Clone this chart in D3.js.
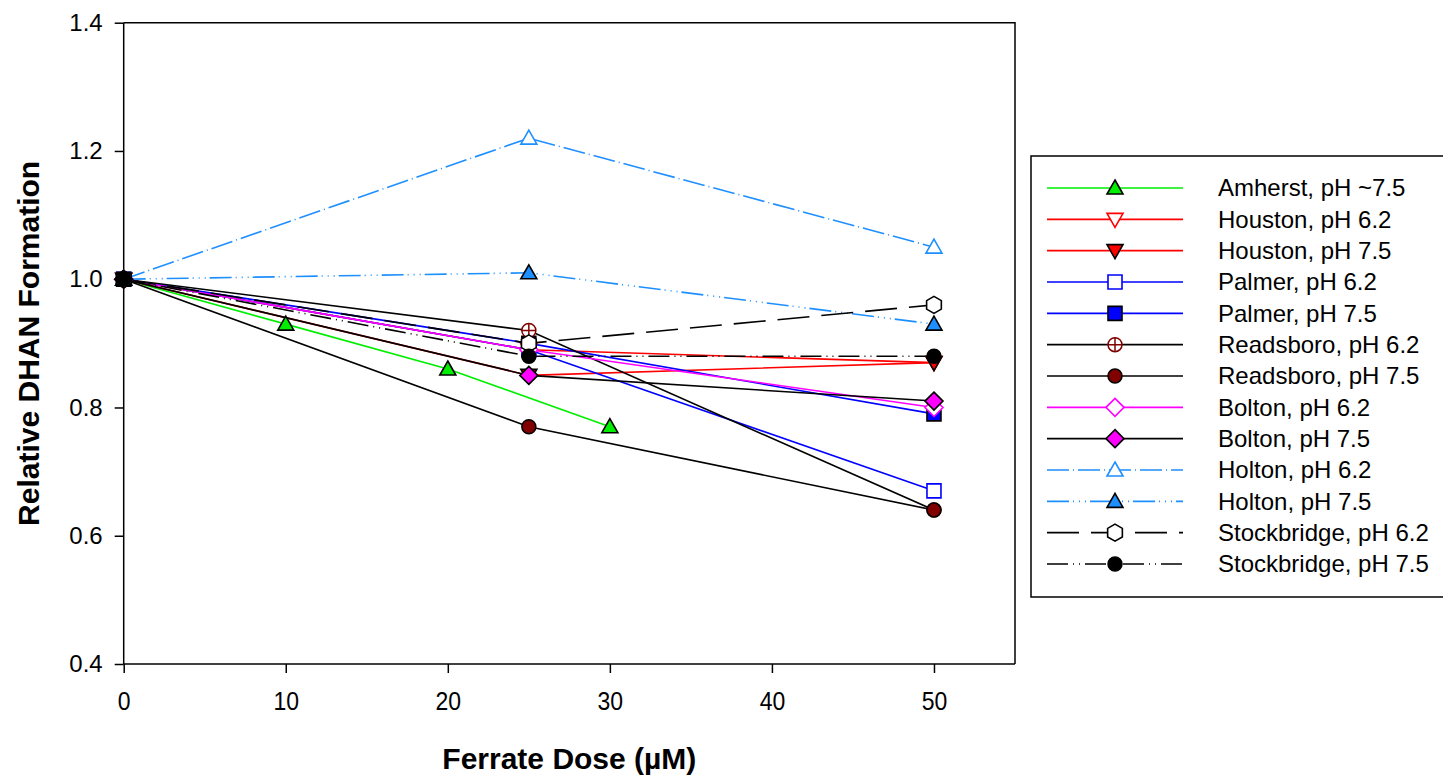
<!DOCTYPE html>
<html>
<head>
<meta charset="utf-8">
<script src="https://cdn.jsdelivr.net/npm/d3@7"></script>
<style>
  body { margin: 0; background: #fff; }
  text { font-family: "Liberation Sans", Arial, sans-serif; }
</style>
</head>
<body>
<svg id="chart" width="1443" height="776"></svg>
<script>
// Ferrate dose (µM) at which each water was sampled
const dosesAmherst = [0, 10, 20, 30];
const dosesOther = [0, 25, 50];

// Relative DHAN formation for each water / pH
const amherst75 = [1.00, 0.93, 0.86, 0.77];
const houston62 = [1.00, 0.89, 0.87];
const houston75 = [1.00, 0.85, 0.87];
const palmer62 = [1.00, 0.89, 0.67];
const palmer75 = [1.00, 0.90, 0.79];
const readsboro62 = [1.00, 0.92, 0.64];
const readsboro75 = [1.00, 0.77, 0.64];
const bolton62 = [1.00, 0.89, 0.80];
const bolton75 = [1.00, 0.85, 0.81];
const holton62 = [1.00, 1.22, 1.05];
const holton75 = [1.00, 1.01, 0.93];
const stockbridge62 = [1.00, 0.90, 0.96];
const stockbridge75 = [1.00, 0.88, 0.88];

const seriesLabels = [
  "Amherst, pH ~7.5", "Houston, pH 6.2", "Houston, pH 7.5", "Palmer, pH 6.2",
  "Palmer, pH 7.5", "Readsboro, pH 6.2", "Readsboro, pH 7.5", "Bolton, pH 6.2",
  "Bolton, pH 7.5", "Holton, pH 6.2", "Holton, pH 7.5", "Stockbridge, pH 6.2",
  "Stockbridge, pH 7.5"
];

const xTicks = [0, 10, 20, 30, 40, 50];
const yTicks = [0.4, 0.6, 0.8, 1.0, 1.2, 1.4];

// Drawing styles for each series (line colour, dash, marker shape and paint)
const HOLTON = "#1e8fff";
const styles = [
  { line: "#00ee00", dash: null, shape: "triUp", fill: "#00ee00", stroke: "#000" },
  { line: "#ff0000", dash: null, shape: "triDown", fill: "#fff", stroke: "#ff0000" },
  { line: "#ff0000", dash: null, shape: "triDown", fill: "#ff0000", stroke: "#000" },
  { line: "#0000ff", dash: null, shape: "square", fill: "#fff", stroke: "#0000ff" },
  { line: "#0000ff", dash: null, shape: "square", fill: "#0000ff", stroke: "#000" },
  { line: "#000", dash: null, shape: "circleCross", fill: "#fff", stroke: "#800000" },
  { line: "#000", dash: null, shape: "circle", fill: "#800000", stroke: "#000" },
  { line: "#ff00ff", dash: null, shape: "diamond", fill: "#fff", stroke: "#ff00ff" },
  { line: "#000", dash: null, shape: "diamond", fill: "#ff00ff", stroke: "#000" },
  { line: HOLTON, dash: "22,4,1,4", shape: "triUp", fill: "#fff", stroke: HOLTON },
  { line: HOLTON, dash: "22,4,1,5,1,5,1,4", shape: "triUp", fill: HOLTON, stroke: "#000" },
  { line: "#000", dash: "32,12", shape: "hexagon", fill: "#fff", stroke: "#000" },
  { line: "#000", dash: "21,5,1,5,1,5", shape: "circle", fill: "#000", stroke: "#000" }
];

const seriesValues = [amherst75, houston62, houston75, palmer62, palmer75, readsboro62,
  readsboro75, bolton62, bolton75, holton62, holton75, stockbridge62, stockbridge75];
const seriesDoses = seriesValues.map((v, i) => i === 0 ? dosesAmherst : dosesOther);

const series = seriesLabels.map((label, i) => ({
  label,
  style: styles[i],
  points: seriesDoses[i].map((d, j) => ({ x: d, y: seriesValues[i][j] }))
}));

const svg = d3.select("#chart");
const plot = { left: 123.7, right: 1015, top: 22.7, bottom: 664 };

const x = d3.scaleLinear().domain([0, 55]).range([plot.left, plot.right]);
const y = d3.scaleLinear().domain([0.4, 1.4]).range([plot.bottom, plot.top]);

// Marker outlines centred on the origin
function markerPath(shape) {
  switch (shape) {
    case "triUp": return "M0,-8L8,6L-8,6Z";
    case "triDown": return "M0,8L8,-6L-8,-6Z";
    case "square": return "M-7,-7H7V7H-7Z";
    case "diamond": return "M0,-9L9,0L0,9L-9,0Z";
    case "hexagon": {
      const r = 8.5;
      const pts = d3.range(6).map(k => {
        const a = -Math.PI / 2 + k * Math.PI / 3;
        return [r * Math.cos(a), r * Math.sin(a)];
      });
      return "M" + pts.map(p => p.join(",")).join("L") + "Z";
    }
    default: return null;
  }
}

function drawMarker(g, style, cx, cy) {
  const m = g.append("g").attr("transform", `translate(${cx},${cy})`);
  if (style.shape === "circle" || style.shape === "circleCross") {
    m.append("circle").attr("r", 7)
      .attr("fill", style.fill).attr("stroke", style.stroke).attr("stroke-width", 1.5);
    if (style.shape === "circleCross") {
      m.append("path").attr("d", "M-7,0H7M0,-7V7")
        .attr("stroke", style.stroke).attr("stroke-width", 1.5);
    }
  } else {
    m.append("path").attr("d", markerPath(style.shape))
      .attr("fill", style.fill).attr("stroke", style.stroke)
      .attr("stroke-width", 1.6).attr("stroke-linejoin", "miter");
  }
}

// Frame (top and right edges)
svg.append("path")
  .attr("d", `M${plot.left},${plot.top}H${plot.right}V${plot.bottom}`)
  .attr("fill", "none").attr("stroke", "#000").attr("stroke-width", 1.5);

// Axes
const xAxis = svg.append("g")
  .attr("transform", `translate(0,${plot.bottom})`)
  .call(d3.axisBottom(x).tickValues(xTicks).tickFormat(d3.format("d")).tickSize(9).tickPadding(19));
const yAxis = svg.append("g")
  .attr("transform", `translate(${plot.left},0)`)
  .call(d3.axisLeft(y).tickValues(yTicks).tickFormat(d3.format(".1f")).tickSize(9).tickPadding(12));

[xAxis, yAxis].forEach(a => {
  a.select(".domain").attr("stroke", "#000").attr("stroke-width", 1.5);
  a.selectAll(".tick line").attr("stroke", "#000").attr("stroke-width", 1.5);
  a.selectAll(".tick text").attr("fill", "#000")
    .style("font-family", '"Liberation Sans", Arial, sans-serif').style("font-size", "24px");
});
xAxis.select(".domain").attr("d", `M${plot.left},0H${plot.right}`);
yAxis.select(".domain").attr("d", `M0,${plot.bottom}V${plot.top}`);
// x tick numbers are set slightly condensed
xAxis.selectAll(".tick text").style("font-size", "25px").attr("transform", "scale(0.92,1)");

// Axis titles
svg.append("text")
  .attr("x", (plot.left + plot.right) / 2).attr("y", 769)
  .attr("text-anchor", "middle")
  .style("font-size", "30px").style("font-weight", "bold")
  .text("Ferrate Dose (µM)");
svg.append("text")
  .attr("transform", `translate(39,${(plot.top + plot.bottom) / 2}) rotate(-90)`)
  .attr("text-anchor", "middle")
  .style("font-size", "30px").style("font-weight", "bold")
  .text("Relative DHAN Formation");

// Series lines
const line = d3.line().x(d => x(d.x)).y(d => y(d.y));
const lines = svg.append("g");
series.forEach(s => {
  lines.append("path")
    .datum(s.points)
    .attr("d", line)
    .attr("fill", "none")
    .attr("stroke", s.style.line)
    .attr("stroke-width", 1.6)
    .attr("stroke-dasharray", s.style.dash);
});

// Series markers
const markers = svg.append("g");
series.forEach(s => {
  s.points.forEach(p => drawMarker(markers, s.style, x(p.x), y(p.y)));
});

// Legend
const legend = svg.append("g");
legend.append("rect")
  .attr("x", 1031).attr("y", 156).attr("width", 430).attr("height", 441)
  .attr("fill", "#fff").attr("stroke", "#000").attr("stroke-width", 1.5);
const legendRow = d3.scaleLinear().domain([0, seriesLabels.length - 1]).range([188, 564]);
series.forEach((s, i) => {
  const ry = legendRow(i);
  legend.append("line")
    .attr("x1", 1047).attr("x2", 1183).attr("y1", ry).attr("y2", ry)
    .attr("stroke", s.style.line).attr("stroke-width", 1.6)
    .attr("stroke-dasharray", s.style.dash);
  drawMarker(legend, s.style, 1115, ry);
  legend.append("text")
    .attr("x", 1218).attr("y", ry).attr("dy", "0.35em")
    .style("font-size", "24px")
    .text(s.label);
});
</script>
</body>
</html>
